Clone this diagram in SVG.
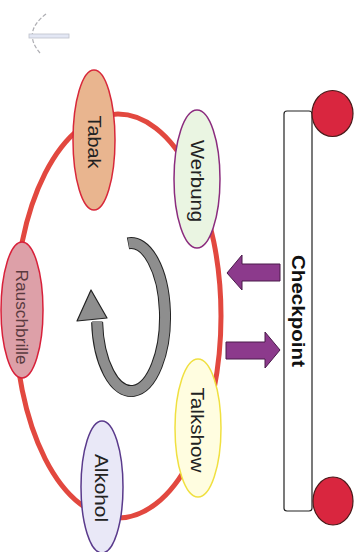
<svg xmlns="http://www.w3.org/2000/svg" width="361" height="552" viewBox="0 0 361 552">
  <style>
    .lbl { font-family: "Liberation Sans", Arial, sans-serif; font-size: 18px; fill: #222; text-anchor: middle; dominant-baseline: central; }
    .bold { font-weight: bold; fill: #111; }
    .ring { fill: none; stroke: #e2483f; stroke-width: 5; }
    .parrow { fill: #8c3a8c; stroke: #4a1a4a; stroke-width: 1; }
    .ball { fill: #d9263f; stroke: #4a1a1a; stroke-width: 1.2; }
  </style>
  <rect width="361" height="552" fill="#ffffff"/>

  <!-- faint mark top-left -->
  <g id="mark" opacity="0.8">
    <path d="M46,14 Q22,32 40,53" fill="none" stroke="#9a9aa0" stroke-width="1.2" stroke-dasharray="4,2"/>
    <rect x="29" y="34" width="40" height="4" fill="#dde2f2" stroke="#b0b4c0" stroke-width="0.8"/>
  </g>

  <g id="connectors">
    <ellipse class="ring" cx="118" cy="316" rx="103" ry="202"/>
    <!-- cycle arrow -->
    <path d="M128,243.3 A34,74 0 1 1 97.1,322" fill="none" stroke="#222" stroke-width="12"/>
    <path d="M128.6,243.3 A34,74 0 1 1 97.1,321" fill="none" stroke="#8e8e8e" stroke-width="10"/>
    <polygon points="91,290 77,321 107,318" fill="#8e8e8e" stroke="#222" stroke-width="1.2" stroke-linejoin="round"/>
    <!-- purple arrows -->
    <polygon class="parrow" points="227,273 242,255 242,264 280,264 280,281 242,281 242,290"/>
    <polygon class="parrow" points="226,342 265,342 265,332 280,350 265,368 265,359 226,359"/>
  </g>

  <g id="tabak">
    <ellipse cx="94" cy="140" rx="21" ry="70" fill="#e9b58f" stroke="#d8283a" stroke-width="1.5"/>
    <text class="lbl" transform="translate(94,142) rotate(90)" textLength="53" lengthAdjust="spacingAndGlyphs">Tabak</text>
  </g>
  <g id="werbung">
    <ellipse cx="197" cy="179" rx="23" ry="69" fill="#eaf5e2" stroke="#8b2c7e" stroke-width="1.5"/>
    <text class="lbl" transform="translate(197,181) rotate(90)" textLength="82" lengthAdjust="spacingAndGlyphs">Werbung</text>
  </g>
  <g id="rauschbrille">
    <ellipse cx="22" cy="310" rx="21" ry="68" fill="#dda0a8" stroke="#d8203a" stroke-width="1.5"/>
    <text class="lbl" style="font-size:16px;fill:#5a3a3f" transform="translate(21,317) rotate(90)" textLength="95" lengthAdjust="spacingAndGlyphs">Rauschbrille</text>
  </g>
  <g id="talkshow">
    <ellipse cx="198" cy="428" rx="23" ry="69" fill="#fffde0" stroke="#f0e040" stroke-width="1.5"/>
    <text class="lbl" transform="translate(197,430) rotate(90)" textLength="85" lengthAdjust="spacingAndGlyphs">Talkshow</text>
  </g>
  <g id="alkohol">
    <ellipse cx="102" cy="487" rx="21" ry="66" fill="#e9e8f7" stroke="#5a3a8c" stroke-width="1.5"/>
    <text class="lbl" transform="translate(101,488) rotate(90)" textLength="68" lengthAdjust="spacingAndGlyphs">Alkohol</text>
  </g>

  <g id="checkpoint">
    <rect x="284" y="111" width="28" height="400" rx="3" fill="#ffffff" stroke="#222" stroke-width="1.2"/>
    <text class="lbl bold" transform="translate(298,311) rotate(90)" textLength="112" lengthAdjust="spacingAndGlyphs">Checkpoint</text>
  </g>
  <g id="ball-top">
    <ellipse class="ball" cx="332.5" cy="113.5" rx="20.5" ry="23"/>
  </g>
  <g id="ball-bottom">
    <ellipse class="ball" cx="333" cy="501" rx="20" ry="24"/>
  </g>
</svg>
